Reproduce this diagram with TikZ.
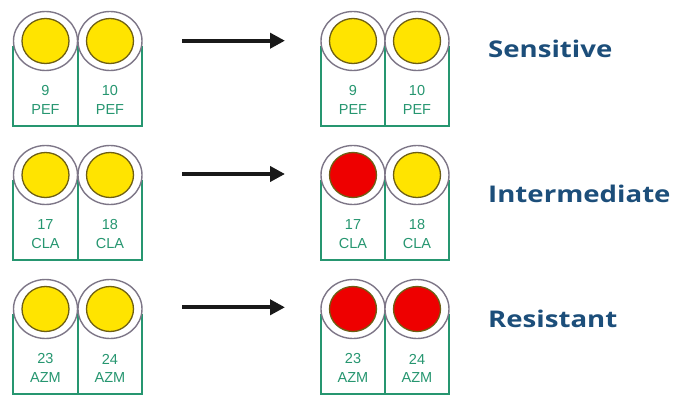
\documentclass[tikz,border=0pt]{standalone}
\usepackage{fontspec}
\setmainfont{Liberation Sans}
\newfontfamily\labelfont[FakeStretch=1.2]{Open Sans}
\usetikzlibrary{arrows.meta}
\definecolor{wellgreen}{RGB}{38,150,112}
\definecolor{ringgray}{RGB}{125,118,135}
\definecolor{rimolive}{RGB}{110,95,20}
\definecolor{dotyellow}{RGB}{255,228,0}
\definecolor{dotred}{RGB}{238,0,0}
\definecolor{labelblue}{RGB}{28,78,122}
\definecolor{arrowblack}{RGB}{25,25,25}
\tikzset{
  wellbox/.style={draw=wellgreen, line width=1.8pt, fill=white},
  ring/.style={draw=ringgray, line width=1.4pt, fill=white},
  dot/.style={draw=rimolive, line width=1.3pt},
  welltext/.style={text=wellgreen, font=\fontsize{14.5}{14.5}\selectfont, inner sep=0pt},
  reslabel/.style={text=labelblue, font=\labelfont\bfseries\fontsize{23}{23}\selectfont, anchor=base west, inner sep=0pt},
  flow/.style={draw=arrowblack, line width=4pt, -{Triangle[length=15pt,width=15pt]}}
}
% #1 name, #2 cx, #3 cy, #4 colour, #5 number, #6 drug
\newcommand{\wellunit}[6]{%
  \path[wellbox] (#2-32.25,#3+6) rectangle (#2+32.25,#3+85);
  \path[ring] (#2,#3) ellipse [x radius=32, y radius=29.5];
  \path[dot, fill=#4] (#2,#3) ellipse [x radius=23.5, y radius=22.5];
  \node[welltext] (#1n) at (#2,#3+50) {#5};
  \node[welltext] (#1d) at (#2,#3+69) {#6};
}
\begin{document}
\begin{tikzpicture}[x=1pt,y=-1pt]
\useasboundingbox (0,0) rectangle (675,396);
\begin{scope}
\clip (0,0) rectangle (675,396);
% row 1
\wellunit{a}{45.5}{41}{dotyellow}{9}{PEF}
\wellunit{b}{110}{41}{dotyellow}{10}{PEF}
\wellunit{c}{353}{41}{dotyellow}{9}{PEF}
\wellunit{d}{417}{41}{dotyellow}{10}{PEF}
% row 2
\wellunit{e}{45.5}{175}{dotyellow}{17}{CLA}
\wellunit{f}{110}{175}{dotyellow}{18}{CLA}
\wellunit{g}{353}{175}{dotred}{17}{CLA}
\wellunit{h}{417}{175}{dotyellow}{18}{CLA}
% row 3
\wellunit{i}{45.5}{309}{dotyellow}{23}{AZM}
\wellunit{j}{110}{309}{dotyellow}{24}{AZM}
\wellunit{k}{353}{309}{dotred}{23}{AZM}
\wellunit{l}{417}{309}{dotred}{24}{AZM}
\end{scope}
% arrows
\coordinate (s1) at (182,40.7);
\coordinate (t1) at (285,40.7);
\coordinate (s2) at (182,174);
\coordinate (t2) at (285,174);
\coordinate (s3) at (182,307.3);
\coordinate (t3) at (285,307.3);
\draw[flow] (s1) -- (t1);
\draw[flow] (s2) -- (t2);
\draw[flow] (s3) -- (t3);
% labels
\node[reslabel] (sens) at (488,58) {Sensitive};
\node[reslabel] (inter) at (488,202) {Intermediate};
\node[reslabel] (resi) at (488,327) {Resistant};
\end{tikzpicture}
\end{document}
